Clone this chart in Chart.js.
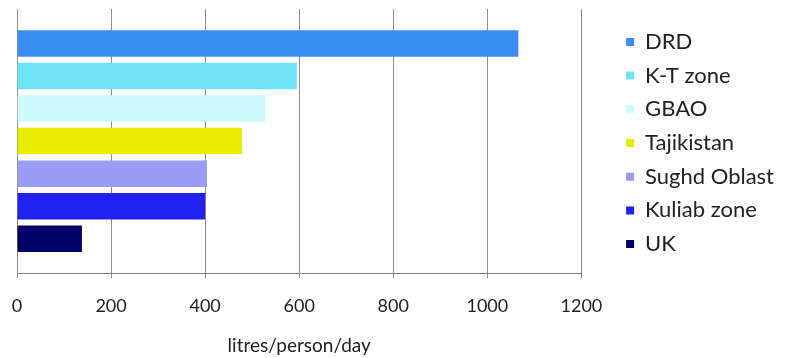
<!DOCTYPE html>
<html>
<head>
<meta charset="utf-8">
<script src="https://cdn.jsdelivr.net/npm/chart.js"></script>
<style>
  html, body { margin: 0; padding: 0; background: #ffffff; }
  #wrap { width: 789px; height: 358px; position: relative; }
</style>
</head>
<body>
<div id="wrap"><canvas id="c"></canvas></div>
<script>
// ---- data ----
const seriesNames = ['DRD', 'K-T zone', 'GBAO', 'Tajikistan', 'Sughd Oblast', 'Kuliab zone', 'UK'];
const seriesValues = [1066, 595, 528, 478, 404, 400, 138];
const seriesColors = ['#3a8ef0', '#6ee4f6', '#cdfafa', '#e8eb00', '#9a9cf8', '#2222f0', '#000066'];
const categoryLabels = [''];
const xTickMin = 0;
const xTickMax = 1200;
const xTickStep = 200;
const xAxisTitle = 'litres/person/day';

const datasets = seriesNames.map((name, i) => ({
  label: name,
  data: [seriesValues[i]],
  backgroundColor: seriesColors[i],
  borderWidth: 0,
  categoryPercentage: 0.862,
  barPercentage: 0.815
}));

new Chart(document.getElementById('c'), {
  type: 'bar',
  data: { labels: categoryLabels, datasets: datasets },
  options: {
    indexAxis: 'y',
    responsive: true,
    maintainAspectRatio: false,
    animation: false,
    layout: { padding: { top: 9, left: 17, bottom: 1, right: 5 } },
    scales: {
      x: {
        type: 'linear',
        min: xTickMin,
        max: xTickMax,
        ticks: {
          stepSize: xTickStep,
          padding: 6,
          color: '#222222',
          font: { family: 'Lato', size: 18, lineHeight: 2.444 },
          callback: (v) => String(v)
        },
        grid: { color: '#8e8e8e', lineWidth: 1, tickLength: 5, drawTicks: true },
        border: { display: true, color: '#7a7a7a', width: 1 },
        title: {
          display: true,
          text: xAxisTitle,
          color: '#222222',
          font: { family: 'Lato', size: 19 },
          padding: { top: 0, bottom: 0 }
        }
      },
      y: {
        type: 'category',
        display: false
      },
      ySpacer: {
        type: 'linear',
        position: 'right',
        display: true,
        ticks: { display: false },
        grid: { display: false, drawTicks: false },
        border: { display: false },
        afterFit: (s) => { s.width = 33; }
      }
    },
    plugins: {
      tooltip: { enabled: false },
      legend: {
        position: 'right',
        align: 'start',
        title: { display: true, text: ' ', font: { size: 1 }, padding: { top: 9, bottom: 0 } },
        labels: {
          boxWidth: 8,
          boxHeight: 8,
          padding: 11.7,
          color: '#222222',
          font: { family: 'Lato', size: 22 }
        }
      }
    }
  }
});
</script>
</body>
</html>
